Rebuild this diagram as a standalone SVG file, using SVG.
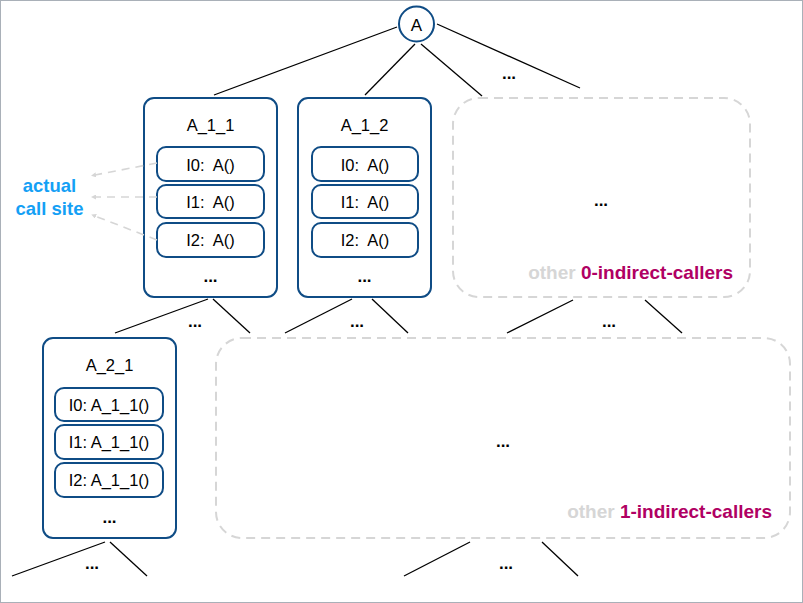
<svg xmlns="http://www.w3.org/2000/svg" width="803" height="603" viewBox="0 0 803 603">
<style>
text{font-family:"Liberation Sans",Arial,sans-serif;fill:#000}
.box{fill:#fff;stroke:#0f4c85;stroke-width:2}
.inner{fill:#fff;stroke:#0f4c85;stroke-width:2}
.dash{fill:none;stroke:#d6d6d6;stroke-width:2;stroke-dasharray:9 6}
.edge{stroke:#000;stroke-width:1.3;fill:none}
.cs{stroke:#d6d6d6;stroke-width:1.6;stroke-dasharray:8 6;fill:none}
.t{font-size:16.5px;text-anchor:middle}
.c{font-size:16.5px;text-anchor:middle;white-space:pre}
.dots{font-size:17px;font-weight:bold;text-anchor:middle}
.lbl{font-size:19px;font-weight:bold;text-anchor:end}
</style>
<defs>
<marker id="ah" viewBox="0 0 10 10" refX="2" refY="5" markerWidth="5" markerHeight="5" orient="auto-start-reverse" markerUnits="userSpaceOnUse">
<path d="M0,0 L10,5 L0,10 z" fill="#d6d6d6"/>
</marker>
</defs>
<rect x="0.5" y="0.5" width="802" height="602" fill="#fff" stroke="#a9b0b8" stroke-width="1"/>
<g id="connectors">
<line class="edge" x1="397" y1="27" x2="214" y2="95"/>
<line class="edge" x1="415" y1="44" x2="365" y2="95"/>
<line class="edge" x1="421" y1="44" x2="482" y2="96"/>
<line class="edge" x1="437" y1="24" x2="580" y2="88"/>
<line class="edge" x1="208" y1="299" x2="115" y2="333"/>
<line class="edge" x1="213" y1="299" x2="250" y2="333"/>
<line class="edge" x1="352" y1="299" x2="285" y2="333"/>
<line class="edge" x1="372" y1="299" x2="408" y2="333"/>
<line class="edge" x1="573" y1="300" x2="507" y2="333"/>
<line class="edge" x1="645" y1="300" x2="682" y2="333"/>
<line class="edge" x1="105" y1="542" x2="12" y2="576"/>
<line class="edge" x1="110" y1="542" x2="147" y2="576"/>
<line class="edge" x1="470" y1="542" x2="404" y2="576"/>
<line class="edge" x1="542" y1="542" x2="578" y2="576"/>
<text class="dots" x="509" y="79">...</text>
<text class="dots" x="195" y="327">...</text>
<text class="dots" x="357" y="327">...</text>
<text class="dots" x="609" y="327">...</text>
<text class="dots" x="92" y="569">...</text>
<text class="dots" x="506" y="569">...</text>
</g>
<g id="A">
<circle cx="416.5" cy="24" r="17.5" fill="#fff" stroke="#0f4c85" stroke-width="2"/>
<text x="416.5" y="30.5" font-size="17" text-anchor="middle">A</text>
</g>
<g id="A_1_1">
<rect class="box" x="144" y="98" width="133" height="199" rx="10"/>
<text class="t" x="210.5" y="131">A_1_1</text>
<rect class="inner" x="157" y="147" width="107" height="34" rx="9"/>
<text class="c" x="210.5" y="170.5">I0:  A()</text>
<rect class="inner" x="157" y="185" width="107" height="33" rx="9"/>
<text class="c" x="210.5" y="207.5">I1:  A()</text>
<rect class="inner" x="157" y="223" width="107" height="34" rx="9"/>
<text class="c" x="210.5" y="245.5">I2:  A()</text>
<text class="dots" x="210.5" y="282">...</text>
</g>
<g id="A_1_2">
<rect class="box" x="298" y="98" width="133" height="199" rx="10"/>
<text class="t" x="364.5" y="131">A_1_2</text>
<rect class="inner" x="312" y="147" width="106" height="34" rx="9"/>
<text class="c" x="365" y="170.5">I0:  A()</text>
<rect class="inner" x="312" y="185" width="106" height="33" rx="9"/>
<text class="c" x="365" y="207.5">I1:  A()</text>
<rect class="inner" x="312" y="223" width="106" height="34" rx="9"/>
<text class="c" x="365" y="245.5">I2:  A()</text>
<text class="dots" x="364.5" y="282">...</text>
</g>
<g id="other0">
<rect class="dash" x="453" y="98" width="297" height="199" rx="26"/>
<text class="dots" x="601" y="206">...</text>
<text class="lbl" x="733" y="278.5"><tspan fill="#d6d6d6">other </tspan><tspan fill="#b00063">0-indirect-callers</tspan></text>
</g>
<g id="A_2_1">
<rect class="box" x="43" y="338" width="133" height="200" rx="10"/>
<text class="t" x="109.5" y="371">A_2_1</text>
<rect class="inner" x="55" y="388" width="108" height="33" rx="9"/>
<text class="c" x="109" y="410.5">I0: A_1_1()</text>
<rect class="inner" x="55" y="425" width="108" height="34" rx="9"/>
<text class="c" x="109" y="447.5">I1: A_1_1()</text>
<rect class="inner" x="55" y="463" width="108" height="34" rx="9"/>
<text class="c" x="109" y="485.5">I2: A_1_1()</text>
<text class="dots" x="109.5" y="523">...</text>
</g>
<g id="other1">
<rect class="dash" x="216" y="338" width="574" height="200" rx="26"/>
<text class="dots" x="503" y="447">...</text>
<text class="lbl" x="772" y="517.5"><tspan fill="#d6d6d6">other </tspan><tspan fill="#b00063">1-indirect-callers</tspan></text>
</g>
<g id="callsite">
<line class="cs" x1="157" y1="163" x2="95" y2="175" marker-end="url(#ah)"/>
<line class="cs" x1="157" y1="197" x2="95" y2="197" marker-end="url(#ah)"/>
<line class="cs" x1="157" y1="240" x2="95" y2="216" marker-end="url(#ah)"/>
<text x="49.5" y="192" font-size="18.5" font-weight="bold" text-anchor="middle" style="fill:#14a0f5">actual</text>
<text x="49.5" y="215" font-size="18.5" font-weight="bold" text-anchor="middle" style="fill:#14a0f5">call site</text>
</g>
</svg>
